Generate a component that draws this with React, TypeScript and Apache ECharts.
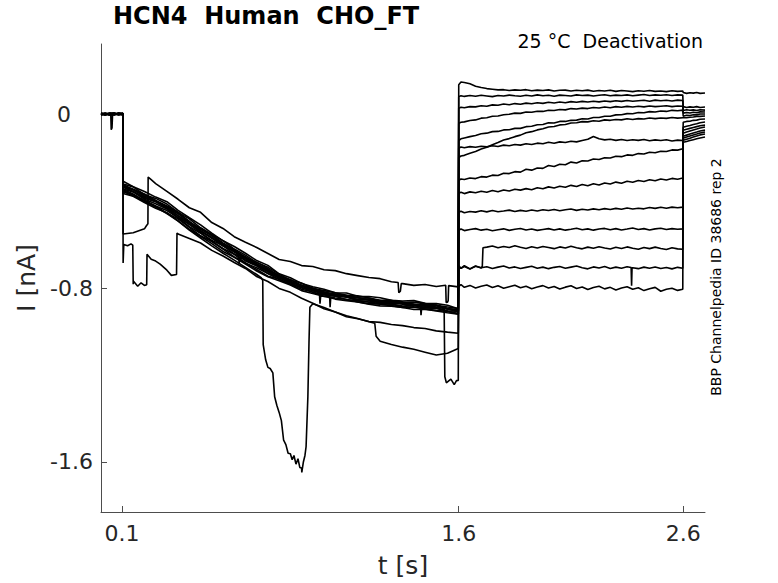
import React, { useEffect, useRef } from "react";
import * as echarts from "echarts";

const FONT = "'DejaVu Sans', sans-serif";
const X_TICKS = [0.1, 1.6, 2.6];
const Y_TICKS = [-1.6, -0.8, 0];

const HOLD_T = [0.0065, 0.025, 0.045, 0.065, 0.085, 0.104];
const ACT_T = [0.105, 0.15, 0.2, 0.25, 0.3, 0.35, 0.4, 0.45, 0.5, 0.55, 0.6, 0.65, 0.7, 0.75, 0.8, 0.85, 0.9, 0.95, 1.0, 1.05, 1.1, 1.15, 1.2, 1.25, 1.3, 1.35, 1.4, 1.45, 1.5, 1.55, 1.598];
const DEACT_T = [1.6, 1.61, 1.625, 1.65, 1.675, 1.7, 1.725, 1.75, 1.775, 1.8, 1.825, 1.85, 1.875, 1.9, 1.925, 1.95, 1.975, 2.0, 2.025, 2.05, 2.075, 2.1, 2.125, 2.15, 2.175, 2.2, 2.225, 2.25, 2.275, 2.3, 2.325, 2.35, 2.375, 2.4, 2.425, 2.45, 2.475, 2.5, 2.525, 2.55, 2.575, 2.598];
const TAIL_T = [2.6, 2.615, 2.63, 2.645, 2.66, 2.675, 2.697];

// holding segment (nA)
const H1 = [0.003, -0.002, 0.004, -0.001, 0.002, -0.003];
const H2 = [-0.002, 0.003, -0.004, 0.002, -0.001, 0.004];
const H3 = [0.001, -0.004, 0.002, 0.005, -0.002, 0.001];
const H4 = [-0.004, 0.001, 0.003, -0.003, 0.004, -0.001];
const H5 = [0.002, -0.001, 0.003, -0.002, 0.001, 0.003];
const H6 = [0.004, -0.003, 0.0, 0.003, -0.004, 0.002];
const H7 = [-0.001, 0.004, -0.002, -0.004, 0.003, 0.0];
const H8 = [0.002, 0.0, -0.005, 0.002, 0.001, -0.004];
const H9 = [-0.003, 0.002, 0.001, -0.001, -0.003, 0.003];
const H10 = [0.0, -0.004, 0.004, 0.001, 0.002, -0.002];
const H11 = [0.005, 0.001, -0.002, -0.003, 0.004, 0.001];
const H12 = [-0.002, -0.003, 0.002, 0.004, -0.002, -0.001];
const H13 = [0.001, 0.003, -0.003, 0.0, 0.005, 0.002];
const H14 = [-0.005, 0.002, 0.001, 0.003, -0.001, -0.003];

// activation segment (nA) on ACT_T
const ACT_B1 = [-0.309, -0.334, -0.356, -0.382, -0.403, -0.443, -0.477, -0.510, -0.548, -0.583, -0.609, -0.640, -0.674, -0.696, -0.735, -0.753, -0.779, -0.794, -0.806, -0.822, -0.823, -0.838, -0.839, -0.845, -0.857, -0.860, -0.858, -0.870, -0.872, -0.879, -0.895];
const ACT_B2 = [-0.322, -0.335, -0.371, -0.388, -0.414, -0.452, -0.482, -0.523, -0.554, -0.582, -0.621, -0.649, -0.683, -0.705, -0.736, -0.764, -0.777, -0.803, -0.812, -0.822, -0.834, -0.836, -0.846, -0.856, -0.856, -0.868, -0.866, -0.872, -0.880, -0.887, -0.894];
const ACT_B3 = [-0.325, -0.347, -0.368, -0.397, -0.423, -0.451, -0.496, -0.526, -0.556, -0.593, -0.624, -0.661, -0.681, -0.711, -0.745, -0.761, -0.788, -0.801, -0.818, -0.830, -0.833, -0.845, -0.846, -0.860, -0.862, -0.864, -0.875, -0.878, -0.879, -0.896, -0.899];
const ACT_B4 = [-0.336, -0.348, -0.378, -0.398, -0.431, -0.459, -0.493, -0.536, -0.571, -0.596, -0.627, -0.664, -0.690, -0.721, -0.743, -0.772, -0.788, -0.804, -0.826, -0.828, -0.840, -0.845, -0.855, -0.862, -0.871, -0.869, -0.875, -0.884, -0.880, -0.896, -0.904];
const ACT_B5 = [-0.336, -0.357, -0.387, -0.403, -0.433, -0.468, -0.507, -0.537, -0.571, -0.607, -0.631, -0.671, -0.694, -0.725, -0.754, -0.770, -0.792, -0.812, -0.820, -0.836, -0.841, -0.853, -0.853, -0.870, -0.868, -0.875, -0.881, -0.880, -0.889, -0.895, -0.910];
const ACT_B6 = [-0.345, -0.358, -0.392, -0.413, -0.437, -0.476, -0.507, -0.545, -0.581, -0.605, -0.644, -0.676, -0.698, -0.733, -0.752, -0.777, -0.800, -0.811, -0.830, -0.836, -0.841, -0.859, -0.860, -0.867, -0.875, -0.883, -0.880, -0.890, -0.891, -0.905, -0.907];
const ACT_B7 = [-0.347, -0.368, -0.398, -0.423, -0.444, -0.477, -0.518, -0.548, -0.585, -0.618, -0.645, -0.686, -0.707, -0.734, -0.761, -0.782, -0.796, -0.820, -0.832, -0.838, -0.854, -0.858, -0.865, -0.872, -0.874, -0.885, -0.890, -0.892, -0.894, -0.907, -0.917];
const ACT_B8 = [-0.356, -0.377, -0.399, -0.424, -0.456, -0.482, -0.521, -0.560, -0.586, -0.621, -0.657, -0.685, -0.715, -0.746, -0.759, -0.784, -0.806, -0.818, -0.839, -0.846, -0.852, -0.864, -0.872, -0.874, -0.881, -0.889, -0.887, -0.897, -0.903, -0.908, -0.919];
const ACT_B9 = [-0.365, -0.378, -0.407, -0.433, -0.454, -0.491, -0.530, -0.562, -0.596, -0.632, -0.659, -0.690, -0.722, -0.748, -0.767, -0.786, -0.812, -0.825, -0.838, -0.851, -0.858, -0.864, -0.875, -0.882, -0.884, -0.890, -0.899, -0.897, -0.906, -0.914, -0.920];
const ACT_DROP = [-0.335, -0.356, -0.383, -0.402, -0.432, -0.467, -0.499, -0.540, -0.567, -0.602, -0.635, -0.663, -0.697, -0.721, -0.749, -0.774, -0.788, -0.810, -0.826, -0.830, -0.840, -0.853, -0.851, -0.864, -0.870, -0.871, -0.880, -0.882, -0.887, -1.232, -1.225];
const ACT_B11 = [-0.331, -0.346, -0.372, -0.401, -0.425, -0.455, -0.498, -0.530, -0.560, -0.597, -0.628, -0.656, -0.690, -0.715, -0.743, -0.769, -0.790, -0.801, -0.818, -0.830, -0.837, -0.844, -0.855, -0.858, -0.866, -0.869, -0.877, -0.877, -0.879, -0.895, -0.903];
const ACT_UP = [-0.552, -0.546, -0.528, -0.320, -0.356, -0.392, -0.431, -0.452, -0.499, -0.526, -0.564, -0.590, -0.614, -0.641, -0.669, -0.678, -0.697, -0.701, -0.716, -0.720, -0.734, -0.743, -0.752, -0.757, -0.771, -0.780, -0.788, -0.784, -0.793, -0.865, -0.795];
const ACT_LOW_A = [-0.685, -0.783, -0.788, -0.676, -0.718, -0.552, -0.572, -0.593, -0.627, -0.653, -0.683, -0.710, -0.747, -0.770, -0.802, -0.820, -0.847, -0.870, -0.895, -0.910, -0.932, -0.941, -0.954, -0.958, -0.968, -0.973, -0.982, -0.986, -0.997, -1.003, -1.008];
const ACT_LOW_B = [-0.352, -0.372, -0.401, -0.428, -0.458, -0.492, -0.534, -0.570, -0.606, -0.640, -0.672, -0.705, -0.738, -1.165, -1.372, -1.562, -1.628, -0.872, -0.890, -0.910, -0.928, -0.940, -0.955, -1.045, -1.060, -1.072, -1.082, -1.095, -1.108, -1.100, -1.078];

// extra samples [t, I] (steps, spikes, dips)
const EX_DIP_HOLD = [[0.05, 0.001], [0.052, -0.072], [0.0555, -0.064], [0.058, -0.003]];
const EX_B6 = [[0.62, -0.652], [0.622, -0.69], [0.625, -0.656]];
const EX_B7 = [[1.43, -0.886], [1.432, -0.925], [1.435, -0.889]];
const EX_B8 = [[1.025, -0.838], [1.027, -0.888], [1.03, -0.842]];
const EX_B9 = [[0.98, -0.833], [0.982, -0.872], [0.985, -0.836]];
const EX_DROP = [[1.535, -0.889], [1.538, -1.208], [1.545, -1.236], [1.565, -1.219], [1.58, -1.244], [1.59, -1.226]];
const EX_UP = [[0.208, -0.515], [0.2155, -0.505], [0.2165, -0.29], [0.23, -0.302], [1.33, -0.775], [1.333, -0.822], [1.34, -0.815], [1.344, -0.78], [1.542, -0.787], [1.544, -0.866], [1.553, -0.858], [1.555, -0.789]];
const EX_A = [[0.108, -0.6], [0.125, -0.606], [0.14, -0.597], [0.148, -0.603], [0.1505, -0.768], [0.17, -0.792], [0.185, -0.776], [0.21, -0.785], [0.2115, -0.645], [0.23, -0.668], [0.27, -0.69], [0.32, -0.742], [0.343, -0.738], [0.345, -0.547]];
const EX_B = [[0.72, -0.752], [0.727, -0.765], [0.729, -1.06], [0.74, -1.13], [0.76, -1.17], [0.772, -1.19], [0.78, -1.3], [0.79, -1.34], [0.81, -1.41], [0.82, -1.5], [0.83, -1.52], [0.84, -1.56], [0.858, -1.59], [0.866, -1.57], [0.875, -1.61], [0.884, -1.585], [0.892, -1.625], [0.901, -1.648], [0.908, -1.6], [0.915, -1.57], [0.92, -1.53], [0.928, -1.3], [0.933, -1.05], [0.937, -0.888], [1.226, -0.962], [1.232, -1.022]];
const EX_D12 = [[1.705, -0.7], [1.708, -0.615]];
const EX_D13 = [[2.368, -0.706], [2.37, -0.79], [2.372, -0.708]];

// deactivation segment (nA) on DEACT_T
const DEACT_1 = [0.135, 0.147, 0.145, 0.139, 0.128, 0.122, 0.117, 0.114, 0.111, 0.112, 0.108, 0.111, 0.109, 0.112, 0.107, 0.110, 0.108, 0.111, 0.106, 0.109, 0.110, 0.106, 0.109, 0.107, 0.110, 0.105, 0.108, 0.106, 0.109, 0.104, 0.108, 0.106, 0.103, 0.107, 0.105, 0.108, 0.104, 0.106, 0.103, 0.107, 0.104, 0.106];
const DEACT_2 = [0.080, 0.084, 0.081, 0.085, 0.082, 0.086, 0.083, 0.080, 0.085, 0.083, 0.087, 0.084, 0.082, 0.086, 0.083, 0.088, 0.084, 0.086, 0.082, 0.087, 0.085, 0.083, 0.088, 0.085, 0.087, 0.083, 0.086, 0.089, 0.084, 0.087, 0.085, 0.088, 0.084, 0.087, 0.090, 0.085, 0.088, 0.086, 0.089, 0.085, 0.088, 0.087];
const DEACT_3 = [0.026, 0.031, 0.029, 0.034, 0.033, 0.038, 0.036, 0.042, 0.040, 0.046, 0.043, 0.048, 0.045, 0.050, 0.047, 0.052, 0.049, 0.054, 0.051, 0.055, 0.052, 0.057, 0.054, 0.058, 0.055, 0.059, 0.056, 0.060, 0.057, 0.061, 0.058, 0.062, 0.059, 0.061, 0.063, 0.059, 0.064, 0.061, 0.063, 0.060, 0.064, 0.062];
const DEACT_4 = [-0.043, -0.038, -0.036, -0.030, -0.027, -0.019, -0.017, -0.010, -0.009, -0.003, -0.001, 0.004, 0.003, 0.009, 0.008, 0.013, 0.012, 0.017, 0.016, 0.021, 0.019, 0.025, 0.023, 0.027, 0.025, 0.030, 0.028, 0.032, 0.029, 0.034, 0.031, 0.035, 0.032, 0.036, 0.033, 0.037, 0.034, 0.036, 0.038, 0.034, 0.037, 0.036];
const DEACT_5 = [-0.122, -0.114, -0.110, -0.104, -0.099, -0.091, -0.088, -0.081, -0.080, -0.073, -0.072, -0.066, -0.066, -0.058, -0.056, -0.049, -0.048, -0.040, -0.041, -0.034, -0.034, -0.029, -0.028, -0.022, -0.023, -0.016, -0.016, -0.010, -0.010, -0.004, -0.003, 0.002, 0.001, 0.007, 0.006, 0.011, 0.009, 0.014, 0.012, 0.017, 0.015, 0.018];
const DEACT_6 = [-0.200, -0.193, -0.190, -0.180, -0.172, -0.161, -0.153, -0.141, -0.131, -0.119, -0.113, -0.104, -0.097, -0.086, -0.081, -0.073, -0.068, -0.060, -0.057, -0.050, -0.048, -0.041, -0.040, -0.035, -0.036, -0.031, -0.033, -0.027, -0.029, -0.025, -0.027, -0.022, -0.025, -0.021, -0.023, -0.018, -0.021, -0.018, -0.020, -0.016, -0.019, -0.017];
const DEACT_7 = [-0.157, -0.152, -0.155, -0.150, -0.153, -0.148, -0.151, -0.146, -0.149, -0.143, -0.146, -0.140, -0.143, -0.137, -0.140, -0.134, -0.137, -0.130, -0.134, -0.128, -0.131, -0.125, -0.128, -0.122, -0.116, -0.103, -0.114, -0.119, -0.116, -0.121, -0.117, -0.122, -0.118, -0.121, -0.117, -0.123, -0.119, -0.122, -0.118, -0.124, -0.120, -0.122];
const DEACT_8 = [-0.305, -0.299, -0.301, -0.294, -0.297, -0.288, -0.290, -0.281, -0.283, -0.272, -0.274, -0.265, -0.267, -0.254, -0.258, -0.248, -0.250, -0.237, -0.241, -0.231, -0.233, -0.221, -0.225, -0.215, -0.216, -0.207, -0.209, -0.201, -0.202, -0.194, -0.196, -0.188, -0.190, -0.182, -0.184, -0.176, -0.178, -0.171, -0.172, -0.165, -0.166, -0.160];
const DEACT_9 = [-0.365, -0.360, -0.366, -0.358, -0.362, -0.355, -0.360, -0.352, -0.357, -0.349, -0.354, -0.346, -0.350, -0.343, -0.348, -0.339, -0.344, -0.335, -0.340, -0.332, -0.337, -0.328, -0.333, -0.324, -0.330, -0.321, -0.326, -0.317, -0.322, -0.313, -0.318, -0.309, -0.314, -0.306, -0.310, -0.302, -0.307, -0.299, -0.303, -0.296, -0.300, -0.294];
const DEACT_10 = [-0.452, -0.447, -0.454, -0.448, -0.451, -0.445, -0.450, -0.444, -0.449, -0.446, -0.442, -0.448, -0.443, -0.447, -0.441, -0.446, -0.440, -0.444, -0.439, -0.445, -0.440, -0.437, -0.443, -0.438, -0.441, -0.436, -0.440, -0.435, -0.439, -0.434, -0.438, -0.432, -0.437, -0.433, -0.436, -0.430, -0.434, -0.429, -0.433, -0.428, -0.431, -0.428];
const DEACT_11 = [-0.534, -0.529, -0.536, -0.531, -0.527, -0.534, -0.530, -0.537, -0.532, -0.528, -0.535, -0.530, -0.526, -0.533, -0.529, -0.535, -0.531, -0.527, -0.533, -0.528, -0.534, -0.530, -0.525, -0.532, -0.528, -0.534, -0.529, -0.526, -0.532, -0.527, -0.533, -0.529, -0.524, -0.531, -0.527, -0.533, -0.528, -0.525, -0.531, -0.527, -0.530, -0.528];
const DEACT_12 = [-0.700, -0.710, -0.697, -0.712, -0.699, -0.708, -0.612, -0.607, -0.615, -0.609, -0.614, -0.606, -0.613, -0.618, -0.610, -0.616, -0.609, -0.614, -0.619, -0.611, -0.616, -0.608, -0.615, -0.620, -0.612, -0.617, -0.610, -0.616, -0.621, -0.613, -0.618, -0.611, -0.617, -0.622, -0.614, -0.619, -0.612, -0.618, -0.623, -0.615, -0.620, -0.622];
const DEACT_13 = [-0.698, -0.709, -0.701, -0.713, -0.700, -0.707, -0.702, -0.710, -0.704, -0.699, -0.708, -0.703, -0.710, -0.705, -0.700, -0.709, -0.704, -0.711, -0.705, -0.701, -0.709, -0.704, -0.699, -0.707, -0.712, -0.703, -0.708, -0.701, -0.710, -0.704, -0.709, -0.702, -0.707, -0.711, -0.704, -0.709, -0.703, -0.710, -0.706, -0.712, -0.705, -0.709];
const DEACT_14 = [-0.793, -0.785, -0.797, -0.788, -0.800, -0.792, -0.786, -0.798, -0.790, -0.801, -0.794, -0.787, -0.799, -0.792, -0.803, -0.795, -0.789, -0.800, -0.793, -0.805, -0.796, -0.790, -0.802, -0.795, -0.807, -0.798, -0.792, -0.804, -0.797, -0.809, -0.800, -0.794, -0.806, -0.799, -0.812, -0.803, -0.797, -0.815, -0.806, -0.801, -0.811, -0.806];

// tail segment (nA) on TAIL_T
const TAIL_1 = [0.099, 0.095, 0.098, 0.096, 0.099, 0.095, 0.097];
const TAIL_2 = [0.034, 0.030, 0.033, 0.031, 0.034, 0.030, 0.032];
const TAIL_3 = [0.016, 0.020, 0.017, 0.019, 0.016, 0.020, 0.018];
const TAIL_4 = [0.004, 0.007, 0.005, 0.008, 0.006, 0.010, 0.009];
const TAIL_5 = [-0.010, -0.006, -0.007, -0.003, -0.004, 0.0, 0.0];
const TAIL_6 = [-0.019, -0.017, -0.015, -0.014, -0.011, -0.011, -0.009];
const TAIL_7 = [-0.038, -0.034, -0.033, -0.029, -0.028, -0.024, -0.023];
const TAIL_8 = [-0.061, -0.056, -0.053, -0.048, -0.045, -0.040, -0.037];
const TAIL_9 = [-0.075, -0.070, -0.066, -0.062, -0.058, -0.054, -0.051];
const TAIL_10 = [-0.088, -0.083, -0.078, -0.073, -0.069, -0.064, -0.060];
const TAIL_11 = [-0.102, -0.097, -0.092, -0.087, -0.083, -0.078, -0.074];
const TAIL_12 = [-0.111, -0.106, -0.101, -0.096, -0.092, -0.087, -0.083];
const TAIL_13 = [-0.121, -0.116, -0.111, -0.106, -0.101, -0.096, -0.092];
const TAIL_14 = [-0.130, -0.126, -0.122, -0.118, -0.114, -0.110, -0.106];

type Pt = [number, number];

const TRACES: { hold: number[]; act: number[]; deact: number[]; tail: number[]; extra: number[][] }[] = [
  { hold: H1, act: ACT_B1, deact: DEACT_1, tail: TAIL_1, extra: [] },
  { hold: H2, act: ACT_B2, deact: DEACT_2, tail: TAIL_2, extra: [] },
  { hold: H3, act: ACT_B3, deact: DEACT_3, tail: TAIL_3, extra: [] },
  { hold: H4, act: ACT_B4, deact: DEACT_4, tail: TAIL_4, extra: [] },
  { hold: H5, act: ACT_B5, deact: DEACT_5, tail: TAIL_5, extra: EX_DIP_HOLD },
  { hold: H6, act: ACT_B6, deact: DEACT_6, tail: TAIL_6, extra: EX_B6 },
  { hold: H7, act: ACT_B7, deact: DEACT_7, tail: TAIL_7, extra: EX_B7 },
  { hold: H8, act: ACT_B8, deact: DEACT_8, tail: TAIL_8, extra: EX_B8 },
  { hold: H9, act: ACT_DROP, deact: DEACT_9, tail: TAIL_9, extra: EX_DROP },
  { hold: H10, act: ACT_B9, deact: DEACT_10, tail: TAIL_10, extra: EX_B9 },
  { hold: H11, act: ACT_B11, deact: DEACT_11, tail: TAIL_11, extra: [] },
  { hold: H12, act: ACT_LOW_B, deact: DEACT_12, tail: TAIL_12, extra: [...EX_B, ...EX_D12] },
  { hold: H13, act: ACT_LOW_A, deact: DEACT_13, tail: TAIL_13, extra: [...EX_A, ...EX_D13] },
  { hold: H14, act: ACT_UP, deact: DEACT_14, tail: TAIL_14, extra: EX_UP },
];

function buildTrace(tr: (typeof TRACES)[number]): Pt[] {
  const pts: Pt[] = [];
  const add = (ts: number[], vs: number[]) => {
    ts.forEach((t, i) => {
      if (typeof vs[i] === "number") pts.push([t, vs[i]]);
    });
  };
  add(HOLD_T, tr.hold);
  add(ACT_T, tr.act);
  add(DEACT_T, tr.deact);
  add(TAIL_T, tr.tail);
  tr.extra.forEach((p) => pts.push([p[0], p[1]]));
  pts.sort((a, b) => a[0] - b[0]);
  return pts;
}

export default function App() {
  const ref = useRef<HTMLDivElement>(null);
  useEffect(() => {
    if (!ref.current) return;
    const chart = echarts.init(ref.current, null, { renderer: "svg" });
    const axisColor = "#4d4d4d";
    const labelColor = "#262626";
    chart.setOption({
      animation: false,
      backgroundColor: "#ffffff",
      title: {
        text: "HCN4  Human  CHO_FT",
        left: 113,
        top: 4,
        padding: 0,
        textStyle: { fontFamily: FONT, fontSize: 24, fontWeight: "bold", color: "#000" },
      },
      grid: { left: 101, right: 73, top: 44, bottom: 71, containLabel: false },
      xAxis: {
        type: "value",
        min: 0.0065,
        max: 2.697,
        name: "t [s]",
        nameLocation: "middle",
        nameGap: 41,
        nameTextStyle: { fontFamily: FONT, fontSize: 25, color: labelColor },
        axisLine: { show: true, onZero: false, lineStyle: { color: axisColor, width: 1 } },
        axisTick: { show: true, inside: true, length: 6, customValues: X_TICKS, lineStyle: { color: axisColor } },
        axisLabel: {
          customValues: X_TICKS,
          fontFamily: FONT,
          fontSize: 22,
          color: labelColor,
          margin: 10,
          formatter: (v: number) => String(v),
        },
        splitLine: { show: false },
      },
      yAxis: {
        type: "value",
        min: -1.83,
        max: 0.322,
        name: "I [nA]",
        nameLocation: "middle",
        nameGap: 58,
        nameRotate: 90,
        nameTextStyle: { fontFamily: FONT, fontSize: 25, color: labelColor },
        axisLine: { show: true, onZero: false, lineStyle: { color: axisColor, width: 1 } },
        axisTick: { show: true, inside: true, length: 6, customValues: Y_TICKS, lineStyle: { color: axisColor } },
        axisLabel: {
          customValues: Y_TICKS,
          fontFamily: FONT,
          fontSize: 22,
          color: labelColor,
          margin: 8,
          formatter: (v: number) => (v === 0 ? "{z|0}" : String(v)),
          rich: { z: { fontFamily: FONT, fontSize: 22, color: labelColor, padding: [0, 22, 0, 0] } },
        },
        splitLine: { show: false },
      },
      graphic: [
        {
          type: "text",
          x: 703,
          y: 41,
          style: {
            text: "25 °C  Deactivation",
            fontFamily: FONT,
            fontSize: 19,
            fill: "#000",
            align: "right",
            verticalAlign: "middle",
          },
        },
        {
          type: "text",
          x: 716,
          y: 277,
          rotation: Math.PI / 2,
          style: {
            text: "BBP Channelpedia ID 38686 rep 2",
            fontFamily: FONT,
            fontSize: 14,
            fill: "#000",
            align: "center",
            verticalAlign: "middle",
          },
        },
      ],
      series: TRACES.map((tr, i) => ({
        name: "trace " + (i + 1),
        type: "line",
        data: buildTrace(tr),
        showSymbol: false,
        symbol: "none",
        silent: true,
        lineStyle: { color: "#000", width: 1.6 },
      })),
    });
    return () => chart.dispose();
  }, []);
  return (
    <div
      ref={ref}
      style={{ position: "absolute", left: 0, top: 0, width: 778, height: 583, background: "#fff" }}
    />
  );
}
